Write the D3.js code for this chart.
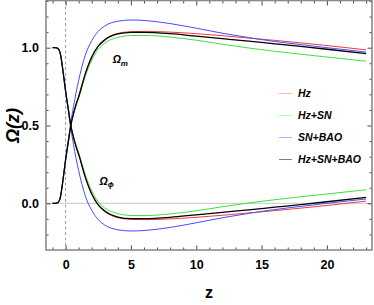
<!DOCTYPE html>
<html><head><meta charset="utf-8">
<script src="https://cdnjs.cloudflare.com/ajax/libs/d3/7.8.5/d3.min.js"></script>
<style>body{margin:0;background:#fff}svg{display:block}</style>
</head><body><svg id="c" width="374" height="305"></svg>
<script>
const zGrid = [-1, -0.8, -0.6, -0.4, -0.2, 0, 0.2, 0.4, 0.6, 0.8, 1, 1.5, 2, 2.5, 3, 4, 5, 6, 8, 10, 12, 14, 16, 18, 20, 23];
const seriesNames = ["Hz", "Hz+SN", "SN+BAO", "Hz+SN+BAO"];
const seriesColors = ["#f23a3a", "#3ee03e", "#4a4aff", "#000000"];
const legendColors = ["#ffb4b4", "#b4ffb4", "#b4b4ff", "#808080"];
const omegaM_Hz      = [0, 0, 0.004, 0.04, 0.15, 0.28, 0.39, 0.5, 0.575, 0.635, 0.685, 0.83, 0.94, 1.012, 1.053, 1.092, 1.103, 1.105, 1.1, 1.09, 1.077, 1.062, 1.047, 1.031, 1.014, 0.986];
const omegaM_HzSN    = [0, 0, 0.004, 0.04, 0.15, 0.28, 0.39, 0.5, 0.57, 0.625, 0.675, 0.815, 0.92, 0.99, 1.03, 1.066, 1.078, 1.079, 1.068, 1.048, 1.022, 0.998, 0.977, 0.958, 0.94, 0.913];
const omegaM_SNBAO   = [0, 0, 0.004, 0.04, 0.15, 0.28, 0.4, 0.52, 0.62, 0.71, 0.79, 0.95, 1.045, 1.105, 1.14, 1.17, 1.178, 1.175, 1.155, 1.125, 1.093, 1.065, 1.04, 1.02, 1.0, 0.972];
const omegaM_All     = [0, 0, 0.004, 0.04, 0.15, 0.28, 0.39, 0.5, 0.575, 0.635, 0.685, 0.83, 0.94, 1.01, 1.05, 1.088, 1.098, 1.098, 1.09, 1.074, 1.058, 1.042, 1.025, 1.008, 0.99, 0.962];
const omegaPhi_Hz    = [1, 1, 0.996, 0.96, 0.85, 0.72, 0.61, 0.5, 0.425, 0.365, 0.315, 0.17, 0.06, -0.012, -0.053, -0.092, -0.103, -0.105, -0.1, -0.09, -0.077, -0.062, -0.047, -0.031, -0.014, 0.014];
const omegaPhi_HzSN  = [1, 1, 0.996, 0.96, 0.85, 0.72, 0.61, 0.5, 0.43, 0.375, 0.325, 0.185, 0.08, 0.01, -0.03, -0.066, -0.078, -0.079, -0.068, -0.048, -0.022, 0.002, 0.023, 0.042, 0.06, 0.087];
const omegaPhi_SNBAO = [1, 1, 0.996, 0.96, 0.85, 0.72, 0.6, 0.48, 0.38, 0.29, 0.21, 0.05, -0.045, -0.105, -0.14, -0.17, -0.178, -0.175, -0.155, -0.125, -0.093, -0.065, -0.04, -0.02, 0.0, 0.028];
const omegaPhi_All   = [1, 1, 0.996, 0.96, 0.85, 0.72, 0.61, 0.5, 0.425, 0.365, 0.315, 0.17, 0.06, -0.01, -0.05, -0.088, -0.098, -0.098, -0.09, -0.074, -0.058, -0.042, -0.025, -0.008, 0.01, 0.038];
const xTicks = [0, 5, 10, 15, 20];
const yTicks = [0.0, 0.5, 1.0];

const omegaM = [omegaM_Hz, omegaM_HzSN, omegaM_SNBAO, omegaM_All];
const omegaPhi = [omegaPhi_Hz, omegaPhi_HzSN, omegaPhi_SNBAO, omegaPhi_All];

const L = 46, R = 372, T = 1, B = 250;
const svg = d3.select("#c");
const x = d3.scaleLinear().domain([-1.5, 23.45]).range([L, R]);
const y = d3.scaleLinear().domain([-0.3, 1.3]).range([B, T]);

svg.append("clipPath").attr("id", "pc").append("rect")
  .attr("x", L).attr("y", T).attr("width", R - L).attr("height", B - T);

svg.append("line").attr("x1", L).attr("x2", R).attr("y1", y(0)).attr("y2", y(0))
  .attr("stroke", "#d0d0d0").attr("stroke-width", 1.2);
svg.append("line").attr("x1", x(0)).attr("x2", x(0)).attr("y1", T).attr("y2", B)
  .attr("stroke", "#909090").attr("stroke-width", 0.9).attr("stroke-dasharray", "3,2.5");

const line = d3.line().x((d, i) => x(zGrid[i])).y(d => y(d)).curve(d3.curveMonotoneX);
const g = svg.append("g").attr("clip-path", "url(#pc)");
[0, 1, 2, 3].forEach(k => {
  [omegaM[k], omegaPhi[k]].forEach(arr => {
    g.append("path").attr("d", line(arr)).attr("fill", "none")
      .attr("stroke", seriesColors[k]).attr("stroke-width", k === 3 ? 1.3 : 1);
  });
});

const frameColor = "#8a8a8a";
function styleAxis(sel) {
  sel.select(".domain").remove();
  sel.selectAll(".tick line").attr("stroke", "#333").attr("stroke-width", 0.9);
  sel.selectAll("text").attr("font-family", "Liberation Sans, Arial, sans-serif")
    .attr("font-weight", "bold").attr("font-size", 12.5).attr("fill", "#000");
}
const xMinor = d3.range(-1, 24, 1).filter(v => v % 5 !== 0);
const yMinor = d3.range(-0.2, 1.31, 0.1).map(v => +v.toFixed(1)).filter(v => Math.abs(v * 2 - Math.round(v * 2)) > 1e-6);

svg.append("g").attr("transform", `translate(0,${B})`)
  .call(d3.axisBottom(x).tickValues(xTicks).tickSize(-4.5).tickPadding(10).tickFormat(d3.format("d")))
  .call(styleAxis);
svg.append("g").attr("transform", `translate(0,${B})`)
  .call(d3.axisBottom(x).tickValues(xMinor).tickSize(-2.5).tickFormat(""))
  .call(styleAxis);
svg.append("g").attr("transform", `translate(0,${T})`)
  .call(d3.axisTop(x).tickValues(xTicks).tickSize(-4.5).tickFormat(""))
  .call(styleAxis);
svg.append("g").attr("transform", `translate(0,${T})`)
  .call(d3.axisTop(x).tickValues(xMinor).tickSize(-2.5).tickFormat(""))
  .call(styleAxis);
svg.append("g").attr("transform", `translate(${L},0)`)
  .call(d3.axisLeft(y).tickValues(yTicks).tickSize(-4.5).tickPadding(7).tickFormat(d3.format(".1f")))
  .call(styleAxis);
svg.append("g").attr("transform", `translate(${L},0)`)
  .call(d3.axisLeft(y).tickValues(yMinor).tickSize(-2.5).tickFormat(""))
  .call(styleAxis);
svg.append("g").attr("transform", `translate(${R},0)`)
  .call(d3.axisRight(y).tickValues(yTicks).tickSize(-4.5).tickFormat(""))
  .call(styleAxis);
svg.append("g").attr("transform", `translate(${R},0)`)
  .call(d3.axisRight(y).tickValues(yMinor).tickSize(-2.5).tickFormat(""))
  .call(styleAxis);

svg.append("rect").attr("x", L).attr("y", T - 0.5).attr("width", R - L).attr("height", B - T + 0.5)
  .attr("fill", "none").attr("stroke", frameColor).attr("stroke-width", 1.6);

svg.append("text").attr("x", (L + R) / 2).attr("y", 298).attr("text-anchor", "middle")
  .attr("font-family", "Liberation Sans, Arial, sans-serif").attr("font-weight", "bold")
  .attr("font-size", 16).text("z");
svg.append("text").attr("transform", `translate(19,${y(0.5)}) rotate(-90)`).attr("text-anchor", "middle")
  .attr("font-family", "Liberation Sans, Arial, sans-serif").attr("font-weight", "bold").attr("font-style", "italic")
  .attr("font-size", 18).text("Ω(z)");

function annot(xv, yv, sub) {
  const t = svg.append("text").attr("x", x(xv)).attr("y", y(yv))
    .attr("font-family", "Liberation Sans, Arial, sans-serif").attr("font-weight", "bold").attr("font-style", "italic")
    .attr("font-size", 10.5);
  t.append("tspan").text("Ω");
  t.append("tspan").attr("font-size", 8).attr("dy", 2.5).text(sub);
}
annot(3.6, 0.9, "m");
annot(2.6, 0.12, "ϕ");

const lg = svg.append("g");
seriesNames.forEach((n, i) => {
  const yy = 93.5 + i * 22;
  lg.append("line").attr("x1", 279).attr("x2", 292).attr("y1", yy).attr("y2", yy)
    .attr("stroke", legendColors[i]).attr("stroke-width", 1);
  lg.append("text").attr("x", 298).attr("y", yy + 3.8)
    .attr("font-family", "Liberation Sans, Arial, sans-serif").attr("font-weight", "bold").attr("font-style", "italic")
    .attr("font-size", 10.5).text(n);
});
</script></body></html>
